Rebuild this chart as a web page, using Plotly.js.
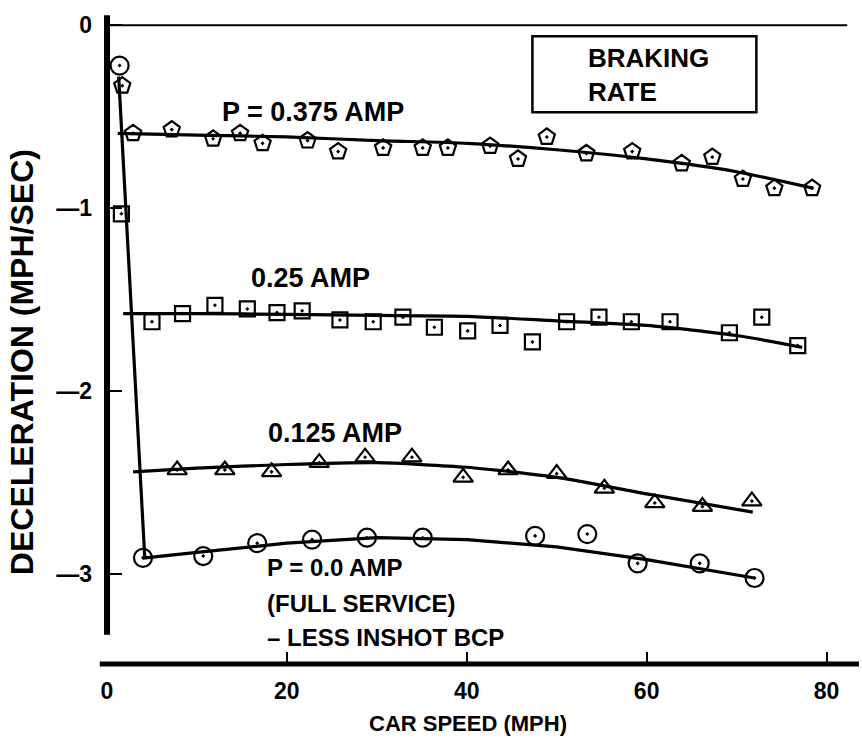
<!DOCTYPE html>
<html>
<head>
<meta charset="utf-8">
<script src="https://cdn.plot.ly/plotly-3.0.1.min.js"></script>
<style>html,body{margin:0;padding:0;background:#fff;}#chart{width:862px;height:747px;}</style>
</head>
<body>
<div id="chart"></div>
<script>
// ---- data ----
const speed375 = [1.7, 2.9, 7.2, 11.8, 14.8, 17.3, 22.3, 25.7, 30.7, 35.1, 37.9, 42.6, 45.7, 48.9, 53.3, 58.4, 63.9, 67.3, 70.7, 74.2, 78.4];
const decel375 = [-0.33, -0.59, -0.57, -0.62, -0.59, -0.645, -0.63, -0.69, -0.67, -0.67, -0.67, -0.66, -0.73, -0.61, -0.70, -0.69, -0.755, -0.72, -0.84, -0.89, -0.89];
const fitSpeed375 = [1.2, 10, 20, 30, 40, 50, 60, 70, 78.5];
const fitDecel375 = [-0.59, -0.60, -0.61, -0.63, -0.645, -0.68, -0.73, -0.80, -0.89];

const speed25 = [1.6, 5.0, 8.4, 12.0, 15.6, 18.9, 21.7, 25.9, 29.6, 32.9, 36.4, 40.1, 43.7, 47.3, 51.1, 54.7, 58.3, 62.6, 69.2, 72.8, 76.8];
const decel25 = [-1.03, -1.62, -1.575, -1.53, -1.55, -1.57, -1.56, -1.61, -1.62, -1.595, -1.65, -1.67, -1.64, -1.73, -1.62, -1.595, -1.62, -1.62, -1.68, -1.595, -1.75];
const fitSpeed25 = [1.8, 10, 20, 30, 40, 50, 60, 70, 77.3];
const fitDecel25 = [-1.575, -1.575, -1.58, -1.585, -1.59, -1.615, -1.64, -1.695, -1.76];

const speed125 = [7.8, 13.1, 18.3, 23.6, 28.7, 33.9, 39.6, 44.6, 50.0, 55.3, 60.9, 66.2, 71.7];
const decel125 = [-2.43, -2.43, -2.44, -2.39, -2.36, -2.36, -2.47, -2.43, -2.45, -2.53, -2.61, -2.63, -2.60];
const fitSpeed125 = [2.9, 10, 20, 30, 40, 50, 60, 71.8];
const fitDecel125 = [-2.44, -2.42, -2.40, -2.39, -2.415, -2.47, -2.56, -2.66];

const speed0 = [1.4, 4.0, 10.7, 16.7, 22.8, 28.9, 35.1, 47.6, 53.4, 59.0, 65.9, 72.0];
const decel0 = [-0.22, -2.91, -2.90, -2.83, -2.81, -2.80, -2.80, -2.79, -2.78, -2.94, -2.94, -3.02];
const fitSpeed0 = [1.3, 4.2, 10, 20, 30, 40, 50, 60, 72];
const fitDecel0 = [-0.28, -2.91, -2.88, -2.83, -2.80, -2.81, -2.85, -2.92, -3.02];

const xTickVals = [0, 20, 40, 60, 80];
const xTickText = ['0', '20', '40', '60', '80'];
const yTickVals = [0, -1, -2, -3];
const yTickText = ['0', '\u20141', '\u20142', '\u20143'];

// ---- styling ----
const FONT = 'Liberation Sans, Arial, Helvetica, sans-serif';
const XR = [0, 83.5];
const YR = [-3.49, 0.1];
const px = v => (v - XR[0]) / (XR[1] - XR[0]);
const py = v => (v - YR[0]) / (YR[1] - YR[0]);

function fitTrace(x, y) {
  return {x: x, y: y, type: 'scatter', mode: 'lines', line: {color: '#000', width: 3.2, shape: 'spline', smoothing: 0.6}, hoverinfo: 'skip', showlegend: false, cliponaxis: false};
}
function ptTrace(x, y, sym, size) {
  return {x: x, y: y, type: 'scatter', mode: 'markers', cliponaxis: false, showlegend: false,
    marker: {symbol: sym, size: size, color: '#000', line: {color: '#000', width: 2.2}}};
}

const data = [
  fitTrace(fitSpeed375, fitDecel375),
  fitTrace(fitSpeed25, fitDecel25),
  fitTrace(fitSpeed125, fitDecel125),
  {x: fitSpeed0, y: fitDecel0, type: 'scatter', mode: 'lines', line: {color: '#000', width: 3.2}, showlegend: false, cliponaxis: false},
  ptTrace(speed375, decel375, 'pentagon-open-dot', 17),
  ptTrace(speed25, decel25, 'square-open-dot', 15),
  ptTrace(speed125, decel125, 'triangle-up-open-dot', 17),
  ptTrace(speed0, decel0, 'circle-open-dot', 18)
];

const bold = (s) => '<b>' + s + '</b>';
const bigFont = {family: FONT, size: 27, color: '#000'};
const annFont = {family: FONT, size: 24, color: '#000'};

const layout = {
  width: 862, height: 747,
  margin: {l: 107, r: 3.5, t: 7, b: 83},
  paper_bgcolor: '#fff', plot_bgcolor: '#fff',
  showlegend: false,
  font: {family: FONT, color: '#000'},
  xaxis: {
    range: XR, showgrid: false, zeroline: false, showline: false,
    tickvals: xTickVals, ticktext: xTickText.map(bold),
    ticks: 'inside', ticklen: 12, tickwidth: 2, tickcolor: '#000',
    tickfont: {family: FONT, size: 23, color: '#000'},
    ticklabelstandoff: 11
  },
  yaxis: {
    range: YR, showgrid: false, zeroline: false, showline: false,
    tickvals: yTickVals, ticktext: yTickText.map(bold),
    ticks: 'inside', ticklen: 15, tickwidth: 2, tickcolor: '#000',
    tickfont: {family: FONT, size: 23, color: '#000'},
    ticklabelstandoff: 14
  },
  shapes: [
    // y axis (thick)
    {type: 'line', xref: 'paper', yref: 'paper', x0: px(0), x1: px(0), y0: py(0.055), y1: py(-3.33), line: {color: '#000', width: 6}},
    // x axis (thick)
    {type: 'line', xref: 'paper', yref: 'paper', x0: px(-0.8), x1: px(83.6), y0: py(-3.49), y1: py(-3.49), line: {color: '#000', width: 5}},
    // zero line at top
    {type: 'line', xref: 'paper', yref: 'paper', x0: px(0), x1: px(82.3), y0: py(0), y1: py(0), line: {color: '#000', width: 2}},
    // BRAKING RATE box
    {type: 'rect', xref: 'paper', yref: 'paper', x0: px(47.3), x1: px(72.2), y0: py(-0.06), y1: py(-0.475), line: {color: '#000', width: 2.5}, fillcolor: 'rgba(0,0,0,0)'}
  ],
  annotations: [
    {x: 22.9, y: -0.475, xref: 'x', yref: 'y', text: bold('P = 0.375 AMP'), showarrow: false, font: bigFont},
    {x: 22.6, y: -1.38, xref: 'x', yref: 'y', text: bold('0.25 AMP'), showarrow: false, font: bigFont},
    {x: 25.3, y: -2.23, xref: 'x', yref: 'y', text: bold('0.125 AMP'), showarrow: false, font: bigFont},
    {x: 17.6, y: -2.962, xref: 'x', yref: 'y', xanchor: 'left', text: bold('P = 0.0 AMP'), showarrow: false, font: annFont},
    {x: 17.6, y: -3.158, xref: 'x', yref: 'y', xanchor: 'left', text: bold('(FULL SERVICE)'), showarrow: false, font: annFont},
    {x: 17.6, y: -3.344, xref: 'x', yref: 'y', xanchor: 'left', text: bold('\u2013 LESS INSHOT BCP'), showarrow: false, font: annFont},
    {x: 53.3, y: -0.27, xref: 'x', yref: 'y', xanchor: 'left', align: 'left', text: bold('BRAKING<br>RATE'), showarrow: false, font: {family: FONT, size: 26, color: '#000'}},
    // axis titles
    {x: 40.1, y: py(-3.814), xref: 'x', yref: 'paper', xanchor: 'center', yanchor: 'middle', text: bold('CAR SPEED (MPH)'), showarrow: false, font: {family: FONT, size: 22, color: '#000'}},
    {x: -0.113, y: py(-1.84), xref: 'paper', yref: 'paper', xanchor: 'center', yanchor: 'middle', textangle: -90, text: bold('DECELERATION (MPH/SEC)'), showarrow: false, font: {family: FONT, size: 32, color: '#000'}}
  ]
};

Plotly.newPlot('chart', data, layout, {displayModeBar: false, staticPlot: true});
</script>
</body>
</html>
